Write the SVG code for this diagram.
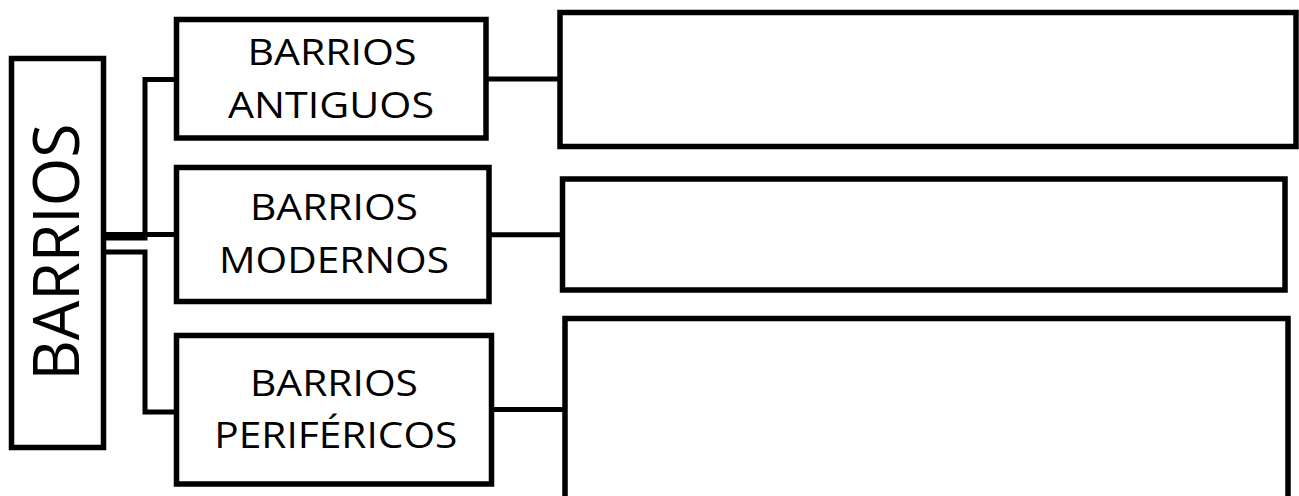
<svg xmlns="http://www.w3.org/2000/svg" width="1299" height="496" viewBox="0 0 1299 496">
<style>
.box{fill:#fff;stroke:#000;stroke-width:5.5}
.ln{fill:none;stroke:#000;stroke-width:5;stroke-linejoin:miter}
.t{font-family:"Open Sans","Liberation Sans",sans-serif;font-size:36px;fill:#000;text-anchor:middle}
.big{font-family:"Open Sans","Liberation Sans",sans-serif;font-size:64px;fill:#000;text-anchor:middle}
</style>
<rect width="1299" height="496" fill="#fff"/>
<g id="connectors">
<path class="ln" d="M106,238 H145 V79.5 H177"/>
<path class="ln" d="M106,234.5 H177"/>
<path class="ln" d="M106,252 H145 V412 H177"/>
<path class="ln" d="M486,79 H560"/>
<path class="ln" d="M489,234.8 H562.5"/>
<path class="ln" d="M491.5,409.5 H565"/>
</g>
<g id="barrios">
<rect class="box" x="11.5" y="58.5" width="92" height="389"/>
<text class="big" transform="translate(78.5,252) rotate(-90)" textLength="257" lengthAdjust="spacingAndGlyphs">BARRIOS</text>
</g>
<g id="antiguos">
<rect class="box" x="176.5" y="19.5" width="309.5" height="118.5"/>
<text class="t" x="332" y="65" textLength="169" lengthAdjust="spacingAndGlyphs">BARRIOS</text>
<text class="t" x="331" y="118.3" textLength="206" lengthAdjust="spacingAndGlyphs">ANTIGUOS</text>
</g>
<g id="modernos">
<rect class="box" x="176.5" y="167.5" width="312.5" height="134"/>
<text class="t" x="334" y="220" textLength="168" lengthAdjust="spacingAndGlyphs">BARRIOS</text>
<text class="t" x="334" y="272.7" textLength="230" lengthAdjust="spacingAndGlyphs">MODERNOS</text>
</g>
<g id="perifericos">
<rect class="box" x="176.5" y="335.5" width="315" height="148.5"/>
<text class="t" x="334" y="396" textLength="168" lengthAdjust="spacingAndGlyphs">BARRIOS</text>
<text class="t" x="335.8" y="448.3" textLength="243" lengthAdjust="spacingAndGlyphs">PERIFÉRICOS</text>
</g>
<g id="box-antiguos-desc">
<rect class="box" x="560" y="12.5" width="736" height="134"/>
</g>
<g id="box-modernos-desc">
<rect class="box" x="562.5" y="179" width="722.5" height="111"/>
</g>
<g id="box-perifericos-desc">
<rect class="box" x="565" y="318.5" width="723" height="200"/>
</g>
</svg>
